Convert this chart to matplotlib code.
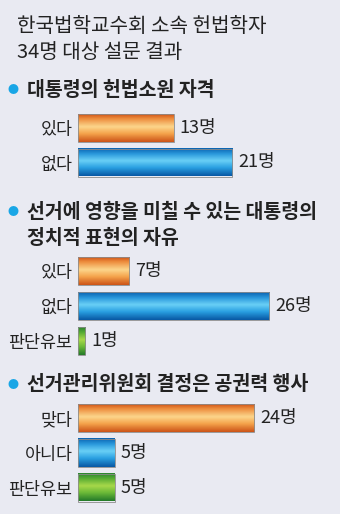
import numpy as np
import matplotlib.pyplot as plt
from matplotlib.colors import LinearSegmentedColormap

plt.rcParams['font.family'] = ['Noto Sans CJK KR', 'DejaVu Sans']

# 데이터
title_lines = ['한국법학교수회 소속 헌법학자', '34명 대상 설문 결과']
q1_title = ['대통령의 헌법소원 자격']
q1_labels = ['있다', '없다']
q1_values = [13, 21]
q2_title = ['선거에 영향을 미칠 수 있는 대통령의', '정치적 표현의 자유']
q2_labels = ['있다', '없다', '판단유보']
q2_values = [7, 26, 1]
q3_title = ['선거관리위원회 결정은 공권력 행사']
q3_labels = ['맞다', '아니다', '판단유보']
q3_values = [24, 5, 5]

W, H = 340, 514
BG = '#e9eaf2'
TXT = '#222222'

# 그라데이션 색
cmaps = {
    'orange': LinearSegmentedColormap.from_list('o', [(0, '#d0561a'), (0.15, '#ec8a3a'), (0.45, '#fcd68c'),
                                                      (0.7, '#f5a44c'), (1, '#cc5418')]),
    'blue': LinearSegmentedColormap.from_list('b', [(0, '#0a63b0'), (0.2, '#2a98dc'), (0.45, '#6ad0f6'),
                                                    (0.7, '#2aa0e2'), (1, '#0858a4')]),
    'green': LinearSegmentedColormap.from_list('g', [(0, '#2a8430'), (0.2, '#5aae34'), (0.45, '#a8d84a'),
                                                     (0.7, '#6cba38'), (1, '#247a2a')]),
}
grad = np.linspace(0, 1, 64).reshape(-1, 1)

fig = plt.figure(figsize=(W / 100, H / 100), dpi=100)
fig.patch.set_facecolor(BG)


def fy(y):
    return 1 - y / H


def header(lines, y0, dy=26):
    fig.text(13 / W, fy(y0), '●', color='#19a6e6', fontsize=8, ha='center', va='center')
    for k, line in enumerate(lines):
        fig.text(27 / W, fy(y0 + k * dy), line, color=TXT, fontsize=14, fontweight='bold',
                 ha='left', va='center')


def section(labels, values, colors, c0, step):
    n = len(values)
    top = c0 - step / 2
    ax = fig.add_axes([78 / W, fy(top + n * step), (W - 78) / W, n * step / H])
    ax.set_facecolor('none')
    scale = 7.35
    xmax = (W - 78) / scale
    h = 28 / step
    y = np.arange(n)
    bars = ax.barh(y, values, height=h, facecolor='none', edgecolor='#8c8c8c', linewidth=0.6, zorder=3)
    for b, v, c in zip(bars, values, colors):
        ax.imshow(grad, cmap=cmaps[c], aspect='auto', zorder=2, interpolation='bicubic',
                  extent=(0, v, b.get_y() + h, b.get_y()))
        ax.text(v + 0.8, b.get_y() + h / 2, f'{v}명', color=TXT, fontsize=13,
                ha='left', va='center')
    ax.set_xlim(0, xmax)
    ax.set_ylim(n - 0.5, -0.5)
    ax.set_yticks(y)
    ax.set_yticklabels(labels, fontsize=12.5, color=TXT)
    ax.tick_params(axis='y', length=0, pad=4)
    ax.set_xticks([])
    for s in ax.spines.values():
        s.set_visible(False)
    return ax


# 제목
fig.text(17 / W, fy(27), title_lines[0], color=TXT, fontsize=14.5, ha='left', va='center')
fig.text(17 / W, fy(53), title_lines[1], color=TXT, fontsize=14.5, ha='left', va='center')

header(q1_title, 90)
section(q1_labels, q1_values, ['orange', 'blue'], 128, 34.5)

header(q2_title, 212)
section(q2_labels, q2_values, ['orange', 'blue', 'green'], 271, 35)

header(q3_title, 385)
section(q3_labels, q3_values, ['orange', 'blue', 'green'], 418, 34.75)

fig.savefig('out.png', dpi=100, facecolor=BG)
